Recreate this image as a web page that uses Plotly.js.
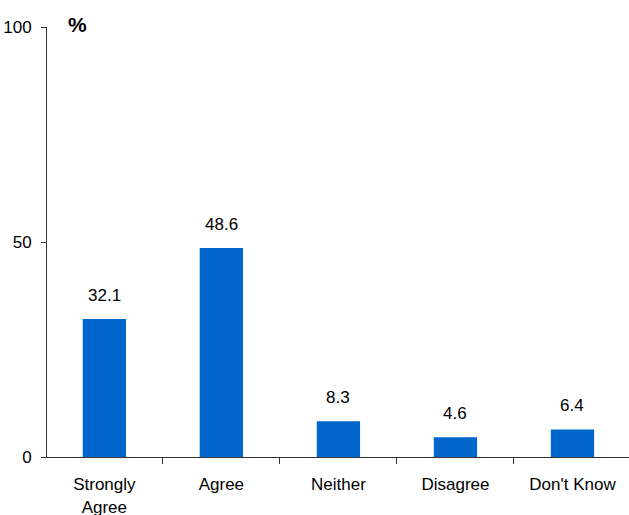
<!DOCTYPE html>
<html><head><meta charset="utf-8">
<script src="https://cdn.plot.ly/plotly-3.0.1.min.js"></script>
<style>html,body{margin:0;padding:0;background:#fff}</style>
</head><body><div id="chart" style="width:629px;height:515px"></div>
<script>
const categories = ["Strongly<br>Agree", "Agree", "Neither", "Disagree", "Don't Know"];
const values = [32.1, 48.6, 8.3, 4.6, 6.4];
const labels = ["32.1", "48.6", "8.3", "4.6", "6.4"];
const yTicks = [0, 50, 100];

const font = {family: "Liberation Sans, Arial, sans-serif", size: 17, color: "#000"};

const trace = {
  type: "bar", x: categories, y: values,
  marker: {color: "#0066CC"}, hoverinfo: "none"
};

const annotations = categories.map((c, i) => ({
  x: c, y: values[i], text: labels[i], showarrow: false,
  yanchor: "bottom", yshift: 12, font: font
}));
annotations.push({xref: "paper", yref: "paper", x: 0.032, y: 1.0, xanchor: "left", yanchor: "bottom",
  text: "<b>%</b>", showarrow: false, font: {family: font.family, size: 21, color: "#000"}, yshift: -11});

Plotly.newPlot("chart", [trace], {
  width: 629, height: 515,
  margin: {l: 47, r: 0, t: 27, b: 58, pad: 0},
  paper_bgcolor: "#fff", plot_bgcolor: "#fff",
  bargap: 0.63, showlegend: false,
  font: font,
  xaxis: {type: "category", range: [-0.49, 4.483], showline: true, linecolor: "#333", linewidth: 1,
    ticks: "outside", ticklen: 6, tickcolor: "#333", tickson: "boundaries", showgrid: false,
    tickfont: font, ticklabelstandoff: 12, fixedrange: true},
  yaxis: {range: [0, 100], tickvals: yTicks, ticktext: yTicks.map(String), showline: true,
    linecolor: "#333", linewidth: 1, ticks: "outside", ticklen: 5, tickcolor: "#333",
    showgrid: false, zeroline: false, tickfont: font, ticklabelstandoff: 6, fixedrange: true},
  annotations: annotations
}, {staticPlot: true});
</script></body></html>
